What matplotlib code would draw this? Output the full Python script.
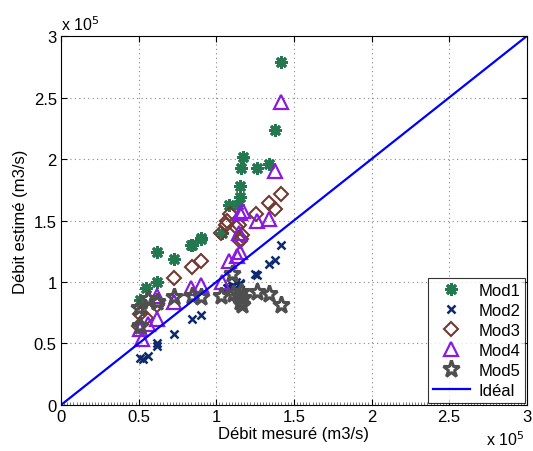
import numpy as np
import matplotlib.pyplot as plt
from matplotlib.ticker import MultipleLocator, FormatStrFormatter

plt.rcParams['font.family'] = ['Liberation Sans', 'DejaVu Sans']

# valeurs en unités de 1e5 m3/s
mod1_x = [1.42, 1.38, 1.17, 1.16, 1.26, 1.34, 1.15, 1.15, 1.08, 1.14, 1.04,
          0.846, 0.90, 0.62, 0.73, 0.84, 0.90, 0.616, 0.55, 0.51, 0.52]
mod1_y = [2.79, 2.24, 2.02, 1.93, 1.93, 1.96, 1.78, 1.69, 1.63, 1.63, 1.40,
          1.30, 1.35, 1.24, 1.19, 1.30, 1.355, 1.00, 0.95, 0.85, 0.82]

mod2_x = [0.51, 0.526, 0.56, 0.616, 0.62, 0.73, 0.846, 0.90, 1.26, 1.34,
          1.38, 1.42, 1.155, 1.11, 1.08, 1.15, 1.10, 1.25, 1.13, 1.07]
mod2_y = [0.38, 0.37, 0.40, 0.48, 0.50, 0.58, 0.70, 0.73, 1.06, 1.15,
          1.18, 1.30, 0.98, 0.97, 0.96, 0.99, 0.97, 1.065, 1.00, 0.95]

mod3_x = [1.42, 1.34, 1.38, 1.255, 1.09, 1.07, 1.03, 1.13, 1.16, 1.145,
          1.165, 1.155, 0.846, 0.90, 0.73, 0.616, 0.548, 0.51, 0.505, 1.06]
mod3_y = [1.715, 1.64, 1.59, 1.55, 1.55, 1.50, 1.40, 1.445, 1.35, 1.46,
          1.38, 1.335, 1.12, 1.17, 1.03, 0.81, 0.71, 0.74, 0.645, 1.46]

mod4_x = [1.42, 1.38, 1.17, 1.155, 1.26, 1.34, 1.145, 1.15, 1.135, 1.08,
          1.04, 0.84, 0.90, 0.73, 0.616, 0.616, 0.56, 0.51, 0.52]
mod4_y = [2.46, 1.90, 1.58, 1.565, 1.50, 1.51, 1.40, 1.24, 1.21, 1.17,
          1.00, 0.95, 0.975, 0.84, 0.89, 0.70, 0.66, 0.62, 0.54]

mod5_x = [0.505, 0.51, 0.56, 0.616, 0.73, 0.846, 0.90, 1.03, 1.10, 1.11,
          1.145, 1.155, 1.17, 1.165, 1.26, 1.34, 1.42, 1.16]
mod5_y = [0.79, 0.645, 0.86, 0.835, 0.875, 0.89, 0.875, 0.89, 1.065, 0.90,
          0.89, 0.835, 0.87, 0.81, 0.915, 0.905, 0.815, 0.92]

ideal = [0, 3]

fig = plt.figure(figsize=(5.33, 4.52), dpi=100)
ax = fig.add_axes([0.1144, 0.1018, 0.874, 0.8162])

ax.plot(mod1_x, mod1_y, linestyle='none', marker=(8, 2, 0), ms=9, mew=2.0,
        color='#23784f', label='Mod1')
ax.plot(mod2_x, mod2_y, linestyle='none', marker='x', ms=5.5, mew=1.8,
        color='#0e2a6e', label='Mod2')
ax.plot(mod3_x, mod3_y, linestyle='none', marker='D', ms=7, mew=1.5,
        mfc='none', color='#6e3b33', label='Mod3')
ax.plot(mod4_x, mod4_y, linestyle='none', marker='^', ms=10, mew=1.6,
        mfc='none', color='#8a1ae0', label='Mod4')
ax.plot(mod5_x, mod5_y, linestyle='none', marker='*', ms=12.5, mew=2.2,
        mfc='none', color='#4f4f4f', label='Mod5')
ax.plot(ideal, ideal, color='#0000ff', lw=1.6, label='Idéal')

ax.set_xlim(0, 3)
ax.set_ylim(0, 3)
ax.xaxis.set_major_locator(MultipleLocator(0.5))
ax.yaxis.set_major_locator(MultipleLocator(0.5))
ax.xaxis.set_major_formatter(FormatStrFormatter('%g'))
ax.yaxis.set_major_formatter(FormatStrFormatter('%g'))
ax.xaxis.set_minor_locator(MultipleLocator(0.02))
ax.tick_params(which='major', direction='in', length=4, labelsize=12,
               top=True, right=True, pad=3)
ax.tick_params(which='minor', direction='in', length=2, color='#666666',
               bottom=True, top=False, left=False, right=False)
ax.grid(True, which='major', linestyle=(0, (1, 3)), color='#888888', lw=0.8)
for s in ax.spines.values():
    s.set_linewidth(0.8)

ax.set_xlabel('Débit mesuré (m3/s)', fontsize=12, labelpad=1)
ax.set_ylabel('Débit estimé (m3/s)', fontsize=12, labelpad=4)

ax.text(0.0, 1.008, 'x 10$^5$', transform=ax.transAxes, fontsize=11.5,
        ha='left', va='bottom')
ax.text(0.995, -0.065, 'x 10$^5$', transform=ax.transAxes, fontsize=11.5,
        ha='right', va='top')

leg = ax.legend(loc='lower right', fontsize=12, frameon=True, fancybox=False,
                edgecolor='black', borderaxespad=0.1, handlelength=2.2,
                labelspacing=0.3, borderpad=0.3, handletextpad=0.5)
leg.get_frame().set_linewidth(0.8)

fig.savefig('out.png', dpi=100)
